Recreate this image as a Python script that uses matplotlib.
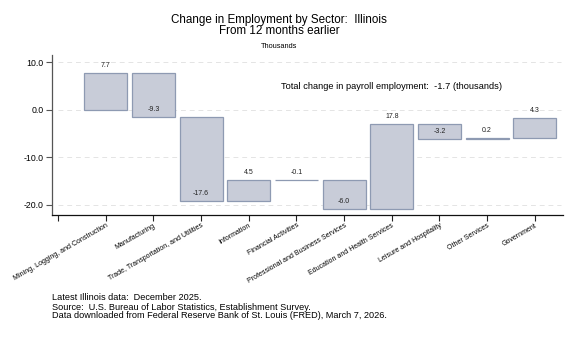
import numpy as np
import matplotlib
matplotlib.use("Agg")
from matplotlib import pyplot as plt

plt.rcParams['font.family'] = ['Liberation Sans', 'DejaVu Sans']

sectors = ['Mining, Logging, and Construction', 'Manufacturing',
           'Trade, Transportation, and Utilities', 'Information',
           'Financial Activities', 'Professional and Business Services',
           'Education and Health Services', 'Leisure and Hospitality',
           'Other Services', 'Government']
changes = [7.7, -9.3, -17.6, 4.5, -0.1, -6.0, 17.8, -3.2, 0.2, 4.3]
total_change = -1.7

footnotes = ['Latest Illinois data:  December 2025.',
             'Source:  U.S. Bureau of Labor Statistics, Establishment Survey.',
             'Data downloaded from Federal Reserve Bank of St. Louis (FRED), March 7, 2026.']


def main():
	vals = np.array(changes)
	ends = np.cumsum(vals)
	starts = ends - vals
	x = np.arange(1, len(vals) + 1)

	fig = plt.figure(figsize=(5.76, 3.37), dpi=100)
	ax = fig.add_axes([52/576, 1 - 215/337, (563-52)/576, (215-55)/337])

	ax.bar(x, vals, bottom=starts, width=0.9, color='#c8ccd8',
	       edgecolor='#8e9ab2', linewidth=0.9, zorder=2)

	# value labels sit just past the end of each step
	for xi, v, e in zip(x, vals, ends):
		ax.annotate('%.1f' % v, (xi, e), xytext=(0, 5.5), textcoords='offset points',
		            ha='center', va='center', fontsize=5, color='#222222')

	ax.text(7.0, 4.9, 'Total change in payroll employment:  %.1f (thousands)' % total_change,
	        ha='center', va='center', fontsize=6.7)

	ax.set_xlim(-0.126, 10.59)
	ax.set_ylim(-22.1, 11.5)
	ax.set_yticks([10, 0, -10, -20])
	ax.set_yticklabels(['10.0', '0.0', '-10.0', '-20.0'], fontsize=6.3)
	for yv in [10, 0, -10, -20]:
		ax.plot([0.0, 10.55], [yv, yv], color='#e4e4e4', lw=0.7,
		        dashes=(5, 4), zorder=0)

	ax.set_xticks(np.arange(0, len(vals) + 1))
	ax.set_xticklabels([''] + sectors, fontsize=5, rotation=30,
	                   ha='right', va='top', rotation_mode='anchor')
	ax.tick_params(axis='x', length=4, width=0.8, pad=1, color='#222222')
	ax.tick_params(axis='y', length=4, width=0.8, pad=2, color='#555555')

	for s in ['top', 'right']:
		ax.spines[s].set_visible(False)
	ax.spines['left'].set_color('#555555')
	ax.spines['bottom'].set_color('#111111')
	ax.spines['left'].set_linewidth(0.9)
	ax.spines['bottom'].set_linewidth(0.9)

	cx = 279/576
	fig.text(cx, 1 - 19.5/337, 'Change in Employment by Sector:  Illinois',
	         ha='center', va='center', fontsize=8.4)
	fig.text(cx, 1 - 30.5/337, 'From 12 months earlier',
	         ha='center', va='center', fontsize=8.4)
	fig.text(cx, 1 - 46/337, 'Thousands', ha='center', va='center', fontsize=5.3)

	for i, line in enumerate(footnotes):
		fig.text(52/576, 1 - (298 + 9*i)/337, line, ha='left', va='center', fontsize=6.6)

	fig.savefig('out.png', dpi=100)


if __name__ == '__main__':
	main()
